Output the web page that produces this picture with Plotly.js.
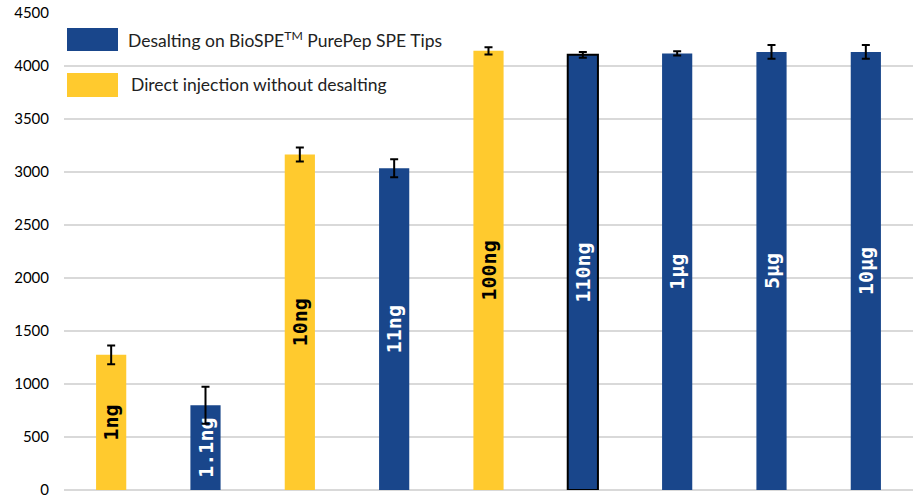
<!DOCTYPE html>
<html>
<head>
<meta charset="utf-8">
<script src="https://cdn.plot.ly/plotly-3.0.1.min.js"></script>
<style>html,body{margin:0;padding:0;background:#fff;}#chart{width:913px;height:497px;}</style>
</head>
<body>
<div id="chart"></div>
<script>
// Data
const categories = ['1ng', '1.1ng', '10ng', '11ng', '100ng', '110ng', '1µg', '5µg', '10µg'];
const values = [1275, 800, 3165, 3035, 4143, 4105, 4118, 4133, 4133];
const errors = [88, 175, 65, 85, 35, 28, 20, 65, 65];
const groups = ['direct', 'desalt', 'direct', 'desalt', 'direct', 'desalt', 'desalt', 'desalt', 'desalt'];
const outlined = [false, false, false, false, false, true, false, false, false];
const legendLabels = {
  desalt: 'Desalting on BioSPE<sup>TM</sup> PurePep SPE Tips',
  direct: 'Direct injection without desalting'
};

const colorOf = {desalt: '#19468B', direct: '#FFCA2E'};
const textColorOf = {desalt: '#ffffff', direct: '#000000'};

const trace = {
  type: 'bar',
  x: categories,
  y: values,
  width: 0.32,
  text: categories,
  textposition: 'inside',
  insidetextanchor: 'middle',
  textangle: -90,
  constraintext: 'none',
  textfont: {family: 'DejaVu Sans Mono', size: 20, weight: 'bold', color: groups.map(g => textColorOf[g])},
  marker: {
    color: groups.map(g => colorOf[g]),
    line: {color: '#000000', width: outlined.map(o => o ? 2 : 0)}
  },
  error_y: {type: 'data', array: errors, visible: true, color: '#000000', thickness: 2, width: 4},
  hoverinfo: 'x+y',
  showlegend: false
};

const layout = {
  width: 913,
  height: 497,
  margin: {l: 64, r: 0, t: 13, b: 7},
  paper_bgcolor: '#ffffff',
  plot_bgcolor: '#ffffff',
  font: {family: 'Lato, "Open Sans", sans-serif', size: 15, color: '#000'},
  xaxis: {type: 'category', showticklabels: false, ticks: '', showgrid: false, zeroline: false, showline: false, range: [-0.5, 8.5]},
  yaxis: {
    range: [0, 4500], dtick: 500, tick0: 0,
    showgrid: true, gridcolor: '#d9d9d9', gridwidth: 1.5,
    zeroline: true, zerolinecolor: '#d9d9d9', zerolinewidth: 1.5,
    showline: false, ticks: '',
    ticklabeloverflow: 'allow',
    tickfont: {family: 'Lato, "Open Sans", sans-serif', size: 15, color: '#000'},
    ticklabelstandoff: 14
  },
  bargap: 0,
  shapes: [
    {type: 'rect', xref: 'paper', yref: 'paper', x0: 3/849, x1: 54/849, y0: 1-(28-13)/477, y1: 1-(51-13)/477, fillcolor: colorOf.desalt, line: {width: 0}},
    {type: 'rect', xref: 'paper', yref: 'paper', x0: 3/849, x1: 54/849, y0: 1-(73-13)/477, y1: 1-(97-13)/477, fillcolor: colorOf.direct, line: {width: 0}}
  ],
  annotations: [
    {xref: 'paper', yref: 'paper', x: 62/849, y: 1-(40-13)/477, xanchor: 'left', yanchor: 'middle', showarrow: false, text: legendLabels.desalt, font: {family: 'Lato, "Open Sans", sans-serif', size: 17.5, color: '#222'}},
    {xref: 'paper', yref: 'paper', x: 65/849, y: 1-(85-13)/477, xanchor: 'left', yanchor: 'middle', showarrow: false, text: legendLabels.direct, font: {family: 'Lato, "Open Sans", sans-serif', size: 17.5, color: '#222'}}
  ]
};

Plotly.newPlot('chart', [trace], layout, {displayModeBar: false, staticPlot: true});
</script>
</body>
</html>
